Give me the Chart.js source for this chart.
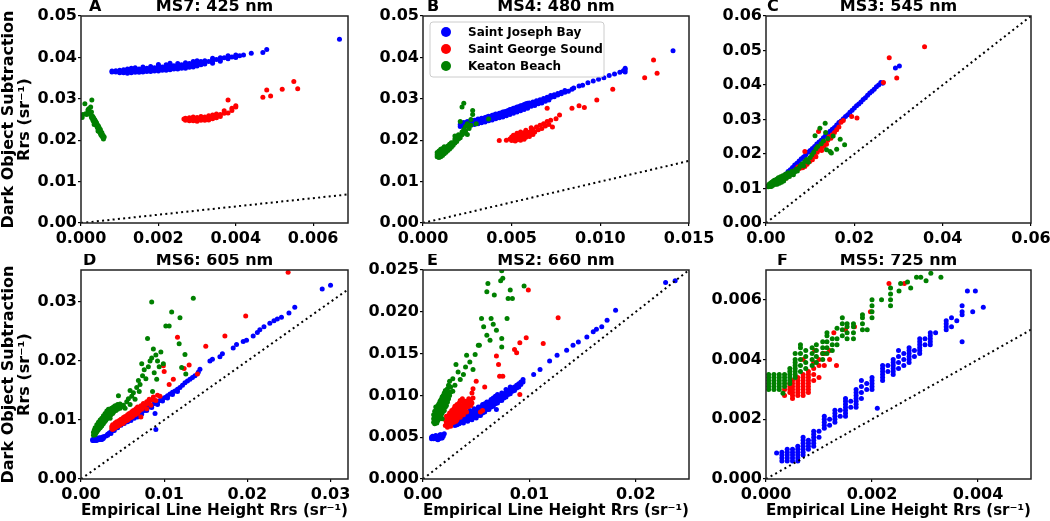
<!DOCTYPE html>
<html>
<head>
<meta charset="utf-8">
<script src="https://cdn.jsdelivr.net/npm/chart.js"></script>
<style>
    html, body { margin: 0; padding: 0; background: #fff; }
    body { width: 1050px; height: 521px; position: relative; overflow: hidden; }
    canvas { position: absolute; }
</style>
</head>
<body>
<script>
const siteNames = ['Saint Joseph Bay', 'Saint George Sound', 'Keaton Beach'];
const siteColors = ['#0000ff', '#ff0000', '#008000'];

const panelLetters = ['A', 'B', 'C', 'D', 'E', 'F'];
const panelTitles = ['MS7: 425 nm', 'MS4: 480 nm', 'MS3: 545 nm', 'MS6: 605 nm', 'MS2: 660 nm', 'MS5: 725 nm'];

const xTickLabels = [
    ['0.000', '0.002', '0.004', '0.006'],
    ['0.000', '0.005', '0.010', '0.015'],
    ['0.00', '0.02', '0.04', '0.06'],
    ['0.00', '0.01', '0.02', '0.03'],
    ['0.00', '0.01', '0.02'],
    ['0.000', '0.002', '0.004']
];
const yTickLabels = [
    ['0.00', '0.01', '0.02', '0.03', '0.04', '0.05'],
    ['0.00', '0.01', '0.02', '0.03', '0.04', '0.05'],
    ['0.00', '0.01', '0.02', '0.03', '0.04', '0.05', '0.06'],
    ['0.00', '0.01', '0.02', '0.03'],
    ['0.000', '0.005', '0.010', '0.015', '0.020', '0.025'],
    ['0.000', '0.002', '0.004', '0.006']
];
const xMax = [0.0069, 0.015, 0.06, 0.0321, 0.025, 0.005];
const yMax = [0.05, 0.05, 0.06, 0.0354, 0.025, 0.007];

const yTitle = ['Dark Object Subtraction', 'Rrs (sr\u207B\u00B9)'];
const xTitle = 'Empirical Line Height Rrs (sr\u207B\u00B9)';

// rows are [x, y1, y2, ...] (points sharing the same x)
// A: MS7 425 nm
const a_sjb = [[0.0008,0.0365,0.0367],[0.0009,0.0365,0.0368],[0.0010,0.0363,0.0366,0.0369],[0.0011,0.0363,0.0367,0.0370],[0.0012,0.0362,0.0366,0.0369,0.0372],[0.0013,0.0363,0.0367,0.0371,0.0374],[0.0014,0.0364,0.0368,0.0372,0.0375],[0.0015,0.0364,0.0368,0.0372],[0.0016,0.0365,0.0369,0.0373,0.0377],[0.0017,0.0366,0.0370,0.0374],[0.0018,0.0366,0.0370,0.0374,0.0378],[0.0019,0.0367,0.0371,0.0375],[0.0020,0.0367,0.0371,0.0375,0.0380,0.0383],[0.0021,0.0369,0.0373,0.0377],[0.0022,0.0369,0.0373,0.0377,0.0382],[0.0023,0.0370,0.0374,0.0378,0.0383,0.0386],[0.0024,0.0372,0.0376,0.0380],[0.0025,0.0372,0.0376,0.0380,0.0385],[0.0026,0.0374,0.0378,0.0382],[0.0027,0.0374,0.0378,0.0382,0.0387],[0.0028,0.0376,0.0380,0.0385],[0.0029,0.0377,0.0381,0.0385,0.0390],[0.0030,0.0379,0.0383,0.0387,0.0392],[0.0031,0.0382,0.0386,0.0390],[0.0032,0.0384,0.0388,0.0392],[0.0033,0.0390],[0.0034,0.0386,0.0390,0.0394,0.0398],[0.0035,0.0395],[0.0036,0.0391,0.0395,0.0399],[0.0037,0.0399],[0.0038,0.0397,0.0401,0.0404],[0.0039,0.0401],[0.0040,0.0400,0.0403,0.0406],[0.0041,0.0404],[0.0042,0.0406],[0.0044,0.0410],[0.0047,0.0412],[0.0048,0.0419],[0.00668,0.0444]];
const a_sgs = [[0.00266,0.0251],[0.0027,0.0248,0.0253],[0.0028,0.0247,0.0250,0.0254],[0.0029,0.0247,0.0252,0.0256],[0.0030,0.0246,0.0250,0.0255],[0.0031,0.0248,0.0253,0.0257],[0.0032,0.0248,0.0251,0.0256],[0.0033,0.0249,0.0253,0.0259],[0.0034,0.0252,0.0255,0.0261],[0.0035,0.0254,0.0258,0.0263],[0.0036,0.0257,0.0262],[0.0037,0.0265,0.0271],[0.0038,0.0266,0.0297],[0.0039,0.0272,0.0277],[0.0040,0.0280,0.0283],[0.0047,0.0304],[0.0048,0.0321],[0.0049,0.0307],[0.0052,0.0323],[0.0055,0.0342],[0.0056,0.0324]];
const a_kb = [[0.00003,0.0255],[0.00005,0.0262],[0.0001,0.0288],[0.00012,0.0264],[0.00015,0.0262],[0.00018,0.0273],[0.0002,0.0266,0.0276],[0.00022,0.0270],[0.00025,0.0262,0.0280],[0.00027,0.0255,0.0268],[0.00028,0.0297],[0.0003,0.0250,0.0258],[0.00032,0.0246,0.0255],[0.00033,0.0252],[0.00034,0.0238],[0.00035,0.0242,0.0250],[0.00036,0.0248],[0.00038,0.0238,0.0245],[0.0004,0.0236,0.0242],[0.00042,0.0231,0.0238],[0.00044,0.0222,0.0228],[0.00045,0.0234],[0.00047,0.0224,0.0230],[0.00048,0.0220],[0.0005,0.0216,0.0226],[0.00052,0.0212,0.0220],[0.00054,0.0218],[0.00055,0.0209],[0.00057,0.0206,0.0212],[0.00058,0.0203],[0.0006,0.0208]];

// B: MS4 480 nm
const b_sjb = [[0.0021,0.0233,0.0238],[0.0022,0.0236,0.0241],[0.0023,0.0233,0.0238,0.0243],[0.0024,0.0236,0.0241],[0.0025,0.0235,0.0240,0.0245],[0.0026,0.0238,0.0243],[0.0027,0.0237,0.0242,0.0247],[0.0028,0.0240,0.0245],[0.0029,0.0238,0.0243,0.0248],[0.0030,0.0242,0.0248],[0.0031,0.0240,0.0245,0.0251],[0.0032,0.0244,0.0250],[0.0033,0.0242,0.0247,0.0253],[0.0034,0.0247,0.0252],[0.0035,0.0244,0.0249,0.0255],[0.0036,0.0250,0.0256],[0.0037,0.0247,0.0252,0.0258],[0.0038,0.0251,0.0257],[0.0039,0.0249,0.0254,0.0260],[0.0040,0.0255,0.0261],[0.0041,0.0252,0.0257,0.0263],[0.0042,0.0256,0.0262],[0.0043,0.0254,0.0259,0.0265],[0.0044,0.0259,0.0266],[0.0045,0.0256,0.0262,0.0268],[0.0046,0.0262,0.0269],[0.0047,0.0259,0.0264,0.0270],[0.0048,0.0265,0.0272],[0.0049,0.0262,0.0267,0.0274],[0.0050,0.0268,0.0275],[0.0051,0.0265,0.0270,0.0277],[0.0052,0.0271,0.0278],[0.0053,0.0268,0.0273,0.0280],[0.0054,0.0274,0.0281],[0.0055,0.0271,0.0276,0.0283],[0.0056,0.0277,0.0284],[0.0057,0.0274,0.0279,0.0286],[0.0058,0.0281,0.0288],[0.0059,0.0277,0.0283,0.0289],[0.0060,0.0284,0.0290],[0.0061,0.0282,0.0288],[0.0062,0.0286,0.0292],[0.0063,0.0284,0.0290],[0.0064,0.0289,0.0295],[0.0065,0.0288,0.0294],[0.0066,0.0292,0.0298],[0.0067,0.0290,0.0296],[0.0068,0.0296,0.0301],[0.0069,0.0294],[0.0070,0.0299,0.0304],[0.0071,0.0297],[0.0072,0.0303,0.0308],[0.0074,0.0305,0.0310],[0.0076,0.0309,0.0313],[0.0078,0.0312,0.0316],[0.0080,0.0316,0.0320],[0.0082,0.0318],[0.0084,0.0323],[0.0085,0.0326],[0.0088,0.0331],[0.0090,0.0333],[0.0093,0.0339],[0.0096,0.0343],[0.0099,0.0347],[0.0102,0.0351],[0.0105,0.0356],[0.0108,0.0360],[0.0111,0.0364],[0.0113,0.0368],[0.0114,0.0365,0.0370,0.0374],[0.0141,0.0416]];
const b_sgs = [[0.0043,0.0199],[0.0047,0.0200],[0.0049,0.0203],[0.0050,0.0199,0.0208],[0.0051,0.0202,0.0212],[0.0052,0.0198,0.0206],[0.0053,0.0201,0.0210,0.0217],[0.0054,0.0204,0.0213],[0.0055,0.0200,0.0208,0.0220],[0.0056,0.0205,0.0214],[0.0057,0.0202,0.0210,0.0218],[0.0058,0.0207,0.0224],[0.0059,0.0212,0.0219],[0.0060,0.0209,0.0216],[0.0061,0.0222,0.0230],[0.0062,0.0214,0.0226],[0.0063,0.0220],[0.0064,0.0232],[0.0065,0.0225],[0.0066,0.0236],[0.0067,0.0228],[0.0068,0.0240],[0.0069,0.0234],[0.0070,0.0245,0.0277],[0.0071,0.0238],[0.0072,0.0248],[0.0073,0.0232],[0.0075,0.0252],[0.0077,0.0261],[0.0084,0.0277],[0.0088,0.0283],[0.0091,0.0279],[0.0098,0.0297],[0.0107,0.0323],[0.0125,0.0351],[0.0130,0.0394],[0.0132,0.0362]];
const b_kb = [[0.0008,0.0160,0.0165,0.0170],[0.0009,0.0158,0.0163,0.0168,0.0174],[0.0010,0.0160,0.0165,0.0171,0.0178],[0.0011,0.0163,0.0168,0.0174,0.0180],[0.0012,0.0167,0.0172,0.0178,0.0184],[0.0013,0.0171,0.0176,0.0182],[0.0014,0.0175,0.0180,0.0186],[0.0015,0.0179,0.0185,0.0190],[0.0016,0.0183,0.0188,0.0194],[0.0017,0.0188,0.0193],[0.0018,0.0193,0.0198,0.0203,0.0210],[0.0019,0.0197,0.0202],[0.0020,0.0203,0.0208,0.0213],[0.0021,0.0206,0.0212,0.0245],[0.0022,0.0213,0.0220,0.0280],[0.0023,0.0217,0.0226,0.0289],[0.0024,0.0222,0.0233],[0.0025,0.0214,0.0240],[0.0026,0.0228],[0.0027,0.0236,0.0250],[0.0028,0.0262,0.0272],[0.0030,0.0240],[0.0037,0.0251]];

// C: MS3 545 nm
const c_sjb = [[0.0030,0.0124],[0.0035,0.0131],[0.0040,0.0136],[0.0045,0.0142],[0.0050,0.0149],[0.0055,0.0154],[0.0060,0.0161],[0.0065,0.0168],[0.0070,0.0173],[0.0075,0.0180],[0.0080,0.0186],[0.0085,0.0191],[0.0090,0.0198],[0.0095,0.0205],[0.0100,0.0210],[0.0105,0.0216],[0.0110,0.0222],[0.0115,0.0229],[0.0120,0.0235],[0.0125,0.0240],[0.0130,0.0247],[0.0135,0.0254],[0.0140,0.0259],[0.0145,0.0266],[0.0150,0.0272],[0.0155,0.0277],[0.0160,0.0284],[0.0165,0.0291],[0.0170,0.0296],[0.0175,0.0302],[0.0180,0.0309],[0.0185,0.0314],[0.0190,0.0321],[0.0195,0.0327],[0.0200,0.0333],[0.0205,0.0340],[0.0210,0.0345],[0.0215,0.0351],[0.0220,0.0358],[0.0225,0.0363],[0.0230,0.0370],[0.0235,0.0377],[0.0240,0.0382],[0.0245,0.0388],[0.0250,0.0395],[0.0255,0.0400],[0.0260,0.0407],[0.0264,0.0405],[0.0293,0.0449],[0.0302,0.0455]];
const c_sgs = [[0.0045,0.0130],[0.0055,0.0142],[0.0062,0.0150],[0.0068,0.0155],[0.0072,0.0162],[0.0076,0.0158],[0.0080,0.0168],[0.0083,0.0160],[0.0088,0.0164,0.0207],[0.0090,0.0175],[0.0093,0.0170],[0.0096,0.0182],[0.0099,0.0178],[0.0102,0.0188],[0.0105,0.0183],[0.0108,0.0195],[0.0110,0.0200],[0.0113,0.0192],[0.0116,0.0205],[0.0119,0.0265],[0.0120,0.0212],[0.0123,0.0218],[0.0126,0.0210],[0.0128,0.0226],[0.0131,0.0222],[0.0134,0.0232],[0.0137,0.0228],[0.0140,0.0240],[0.0143,0.0250],[0.0147,0.0246],[0.0150,0.0256],[0.0155,0.0262],[0.0160,0.0270],[0.0165,0.0278],[0.0170,0.0292],[0.0175,0.0297],[0.0194,0.0309],[0.0206,0.0304],[0.0266,0.0407],[0.0279,0.0479],[0.0296,0.0420],[0.0359,0.0511]];
const c_kb = [[0.0005,0.0105,0.0108],[0.0007,0.0112],[0.0009,0.0106,0.0110],[0.0010,0.0115],[0.0012,0.0106,0.0110],[0.0013,0.0118],[0.0015,0.0109,0.0113],[0.0016,0.0121],[0.0018,0.0112,0.0116],[0.0019,0.0124],[0.0021,0.0112],[0.0022,0.0116,0.0120],[0.0024,0.0127],[0.0025,0.0112,0.0116],[0.0027,0.0120,0.0123],[0.0028,0.0131],[0.0030,0.0115,0.0119],[0.0031,0.0126],[0.0033,0.0130,0.0134],[0.0035,0.0118,0.0122],[0.0036,0.0130],[0.0038,0.0133,0.0137],[0.0040,0.0122,0.0126],[0.0042,0.0133],[0.0044,0.0137,0.0141],[0.0046,0.0130],[0.0048,0.0134,0.0138],[0.0050,0.0146],[0.0053,0.0135],[0.0056,0.0143],[0.0059,0.0150],[0.0062,0.0140],[0.0065,0.0148],[0.0068,0.0156],[0.0071,0.0151],[0.0075,0.0160],[0.0078,0.0166],[0.0082,0.0172],[0.0085,0.0165],[0.0088,0.0178],[0.0092,0.0184],[0.0096,0.0176],[0.0100,0.0190],[0.0104,0.0198],[0.0108,0.0205],[0.0111,0.0253],[0.0113,0.0215],[0.0117,0.0222],[0.0122,0.0275],[0.0125,0.0230],[0.0130,0.0238],[0.0134,0.0289],[0.0135,0.0262],[0.0137,0.0212],[0.0140,0.0245],[0.0145,0.0207],[0.0148,0.0203],[0.0152,0.0252],[0.0160,0.0214],[0.0168,0.0243],[0.0178,0.0227]];

// D: MS6 605 nm
const d_sjb = [[0.0014,0.0065,0.0067],[0.0015,0.0065],[0.0016,0.0066,0.0069],[0.0017,0.0066],[0.0018,0.0065,0.0068],[0.0019,0.0066],[0.0020,0.0066,0.0069],[0.0021,0.0067],[0.0022,0.0067,0.0070],[0.0023,0.0068],[0.0024,0.0067,0.0070],[0.0025,0.0067],[0.0026,0.0068,0.0071],[0.0027,0.0069],[0.0028,0.0072],[0.0030,0.0073],[0.0032,0.0074,0.0076],[0.0034,0.0078],[0.0036,0.0077,0.0080],[0.0038,0.0082],[0.0040,0.0082,0.0085],[0.0042,0.0087],[0.0044,0.0087,0.0090],[0.0046,0.0092],[0.0048,0.0091,0.0094],[0.0050,0.0096],[0.0052,0.0094,0.0098],[0.0054,0.0099],[0.0056,0.0097,0.0101],[0.0058,0.0103],[0.0060,0.0099,0.0102],[0.0062,0.0105],[0.0064,0.0103,0.0107],[0.0066,0.0106],[0.0068,0.0105,0.0109],[0.0070,0.0111],[0.0073,0.0110,0.0114],[0.0076,0.0116],[0.0079,0.0116,0.0120],[0.0082,0.0122],[0.0085,0.0121,0.0125],[0.0088,0.0128],[0.0089,0.0111],[0.0090,0.0084],[0.0092,0.0126,0.0130],[0.0095,0.0133],[0.0098,0.0132,0.0136],[0.0101,0.0138],[0.0104,0.0137,0.0141],[0.0107,0.0144],[0.0110,0.0143,0.0147],[0.0113,0.0149],[0.0116,0.0148,0.0152],[0.0119,0.0155],[0.0122,0.0159],[0.0125,0.0163],[0.0128,0.0166],[0.0131,0.0169],[0.0134,0.0172],[0.0137,0.0175],[0.0141,0.0181],[0.0143,0.0186],[0.0155,0.0200],[0.0158,0.0203],[0.0167,0.0207],[0.0170,0.0212],[0.0183,0.0222],[0.0187,0.0228],[0.0195,0.0233],[0.0199,0.0235],[0.0207,0.0242],[0.0212,0.0248],[0.0215,0.0253],[0.0220,0.0258],[0.0227,0.0264],[0.0232,0.0268],[0.0236,0.0271],[0.0241,0.0274],[0.0250,0.0281],[0.0257,0.0291],[0.0290,0.0322],[0.0300,0.0328]];
const d_sgs = [[0.0037,0.0085,0.0089],[0.0038,0.0084,0.0088,0.0092],[0.0040,0.0086,0.0091],[0.0041,0.0087,0.0090,0.0095],[0.0042,0.0088,0.0093],[0.0043,0.0089,0.0092,0.0097],[0.0045,0.0090,0.0095],[0.0046,0.0091,0.0094,0.0099],[0.0047,0.0092,0.0097],[0.0048,0.0093,0.0096,0.0101],[0.0050,0.0094,0.0099],[0.0051,0.0095,0.0099,0.0104],[0.0052,0.0097,0.0102],[0.0053,0.0098,0.0101,0.0106],[0.0055,0.0099,0.0104],[0.0056,0.0100,0.0103,0.0109],[0.0057,0.0101,0.0106],[0.0058,0.0103,0.0106,0.0111],[0.0060,0.0104,0.0109],[0.0061,0.0105,0.0108,0.0114],[0.0062,0.0106,0.0111],[0.0063,0.0108,0.0111,0.0116],[0.0065,0.0109,0.0114],[0.0066,0.0110,0.0113,0.0119],[0.0067,0.0117],[0.0068,0.0111,0.0122],[0.0070,0.0115,0.0119],[0.0071,0.0120],[0.0072,0.0105,0.0124],[0.0073,0.0118],[0.0075,0.0122,0.0128],[0.0077,0.0126],[0.0079,0.0119,0.0131],[0.0080,0.0128],[0.0082,0.0131,0.0135],[0.0084,0.0125],[0.0086,0.0134],[0.0087,0.0139],[0.0090,0.0133],[0.0092,0.0142],[0.0095,0.0140],[0.0099,0.0192],[0.0100,0.0182],[0.0106,0.0160],[0.0111,0.0169],[0.0116,0.0240],[0.0124,0.0187],[0.0130,0.0193],[0.0140,0.0178],[0.0150,0.0225],[0.0173,0.0242],[0.0198,0.0276],[0.0249,0.0350]];
const d_kb = [[0.0015,0.0074,0.0079],[0.0016,0.0077,0.0083],[0.0017,0.0075,0.0081,0.0087],[0.0018,0.0078,0.0085],[0.0019,0.0080,0.0087,0.0092],[0.0020,0.0082,0.0089],[0.0021,0.0084,0.0090,0.0096],[0.0022,0.0086,0.0093],[0.0023,0.0087,0.0094,0.0100],[0.0024,0.0089,0.0096],[0.0025,0.0090,0.0098,0.0103],[0.0026,0.0093,0.0100],[0.0027,0.0094,0.0101,0.0107],[0.0028,0.0097,0.0104],[0.0029,0.0098,0.0106,0.0111],[0.0030,0.0100,0.0108],[0.0031,0.0102,0.0110,0.0115],[0.0032,0.0104,0.0112],[0.0033,0.0105,0.0113,0.0118],[0.0034,0.0107,0.0115],[0.0035,0.0103,0.0110,0.0117],[0.0036,0.0109,0.0119],[0.0037,0.0112,0.0120],[0.0038,0.0111,0.0118],[0.0039,0.0113,0.0122],[0.0040,0.0115,0.0121],[0.0041,0.0117,0.0124],[0.0042,0.0116,0.0123],[0.0043,0.0119],[0.0044,0.0118,0.0126],[0.0045,0.0141],[0.0046,0.0121],[0.0047,0.0120,0.0127],[0.0049,0.0123],[0.0051,0.0125],[0.0053,0.0120],[0.0055,0.0131],[0.0057,0.0136],[0.0059,0.0126,0.0150],[0.0061,0.0140],[0.0063,0.0146],[0.0065,0.0135],[0.0067,0.0155],[0.0069,0.0167],[0.0070,0.0148],[0.0071,0.0160],[0.0073,0.0195],[0.0074,0.0175],[0.0076,0.0185],[0.0078,0.0170],[0.0080,0.0238],[0.0081,0.0190],[0.0083,0.0200],[0.0085,0.0205,0.0300],[0.0086,0.0148],[0.0087,0.0220],[0.0088,0.0180],[0.0090,0.0210],[0.0091,0.0169],[0.0092,0.0200],[0.0094,0.0190],[0.0096,0.0215],[0.0099,0.0195],[0.0102,0.0259],[0.0106,0.0259],[0.0109,0.0283],[0.0118,0.0229],[0.0119,0.0273],[0.0121,0.0189],[0.0125,0.0211],[0.0126,0.0178],[0.0135,0.0306]];

// E: MS2 660 nm
const e_sjb = [[0.0008,0.0048,0.0050],[0.0009,0.0051],[0.0010,0.0048,0.0050],[0.0011,0.0050],[0.0012,0.0048,0.0052],[0.0013,0.0049],[0.0014,0.0047,0.0051],[0.0015,0.0048],[0.0016,0.0050,0.0053],[0.0017,0.0049,0.0053],[0.0018,0.0049],[0.0019,0.0051],[0.0020,0.0054],[0.0030,0.0064,0.0068],[0.0032,0.0065,0.0070],[0.0033,0.0068,0.0072],[0.0034,0.0066,0.0070,0.0074],[0.0036,0.0068,0.0072,0.0076],[0.0038,0.0067,0.0071,0.0075],[0.0040,0.0070,0.0075,0.0079],[0.0042,0.0069,0.0073,0.0078],[0.0044,0.0072,0.0077,0.0082],[0.0046,0.0071,0.0075,0.0080],[0.0048,0.0074,0.0079,0.0084],[0.0050,0.0073,0.0078,0.0083],[0.0052,0.0076,0.0081,0.0086],[0.0054,0.0076,0.0081,0.0086],[0.0056,0.0079,0.0084,0.0089],[0.0058,0.0080,0.0085,0.0090],[0.0060,0.0083,0.0088,0.0092],[0.0062,0.0083,0.0087,0.0092],[0.0064,0.0086,0.0090,0.0095],[0.0066,0.0087,0.0092,0.0097],[0.0068,0.0090,0.0095,0.0099],[0.0069,0.0083],[0.0070,0.0091,0.0096,0.0101],[0.0072,0.0094,0.0099],[0.0074,0.0094,0.0098,0.0103],[0.0076,0.0097,0.0102],[0.0078,0.0098,0.0103,0.0107],[0.0080,0.0101,0.0106],[0.0082,0.0102,0.0107,0.0110],[0.0084,0.0105,0.0109],[0.0086,0.0106,0.0110],[0.0088,0.0109,0.0112],[0.0090,0.0110,0.0114],[0.0092,0.0113,0.0116],[0.0094,0.0116,0.0119],[0.0104,0.0125],[0.0110,0.0131],[0.0119,0.0141],[0.0126,0.0148],[0.0135,0.0154],[0.0141,0.0160],[0.0146,0.0164],[0.0154,0.0170],[0.0160,0.0176],[0.0163,0.0179],[0.0168,0.0182],[0.0173,0.0190],[0.0181,0.0202],[0.0228,0.0235],[0.0237,0.0237]];
const e_sgs = [[0.0021,0.0064,0.0071],[0.0022,0.0068,0.0075],[0.0023,0.0062,0.0066,0.0072],[0.0024,0.0070,0.0076],[0.0025,0.0065,0.0069,0.0079],[0.0026,0.0063,0.0073,0.0077],[0.0027,0.0067,0.0072,0.0082],[0.0028,0.0070,0.0076,0.0080],[0.0029,0.0068,0.0074,0.0084],[0.0030,0.0071,0.0075,0.0087],[0.0031,0.0069,0.0079,0.0083],[0.0032,0.0071,0.0077,0.0089],[0.0033,0.0074,0.0078,0.0085],[0.0034,0.0076,0.0082,0.0091],[0.0035,0.0074,0.0080,0.0094],[0.0036,0.0078,0.0083,0.0088],[0.0037,0.0081,0.0086,0.0096],[0.0038,0.0077,0.0084,0.0092],[0.0039,0.0082,0.0089],[0.0040,0.0085,0.0093],[0.0041,0.0080,0.0088],[0.0042,0.0086,0.0091],[0.0043,0.0090,0.0096],[0.0045,0.0088,0.0093],[0.0046,0.0091,0.0103],[0.0047,0.0097,0.0108],[0.0050,0.0117],[0.0054,0.0080],[0.0056,0.0082],[0.0058,0.0110],[0.0069,0.0147],[0.0071,0.0137],[0.0072,0.0123],[0.0075,0.0123],[0.0086,0.0155],[0.0088,0.0151],[0.0091,0.0101,0.0163],[0.0097,0.0169],[0.0099,0.0226],[0.0113,0.0162],[0.0127,0.0193]];
const e_kb = [[0.0010,0.0068,0.0072,0.0077],[0.0011,0.0066,0.0071,0.0075,0.0081],[0.0012,0.0068,0.0073,0.0080,0.0086],[0.0013,0.0067,0.0073,0.0079,0.0085],[0.0014,0.0070,0.0076,0.0082,0.0088],[0.0015,0.0072,0.0078,0.0084,0.0090],[0.0016,0.0074,0.0080,0.0087,0.0093],[0.0017,0.0076,0.0082,0.0089,0.0095],[0.0018,0.0072,0.0079,0.0085,0.0092,0.0098],[0.0019,0.0081,0.0088,0.0094,0.0100],[0.0020,0.0082,0.0090,0.0096,0.0103],[0.0021,0.0086,0.0093,0.0099,0.0106],[0.0022,0.0088,0.0094,0.0102],[0.0023,0.0092,0.0099,0.0108],[0.0024,0.0096,0.0103,0.0112],[0.0025,0.0100,0.0117],[0.0026,0.0104,0.0110],[0.0028,0.0105,0.0120],[0.0030,0.0112],[0.0031,0.0137],[0.0033,0.0128],[0.0035,0.0119],[0.0038,0.0125],[0.0040,0.0134],[0.0041,0.0148],[0.0044,0.0140],[0.0047,0.0131],[0.0049,0.0149],[0.0052,0.0160],[0.0053,0.0160],[0.0055,0.0192],[0.0057,0.0182],[0.0060,0.0172,0.0224],[0.0061,0.0234],[0.0063,0.0166],[0.0064,0.0192],[0.0066,0.0185],[0.0067,0.0220],[0.0069,0.0178],[0.0073,0.0237],[0.0074,0.0158,0.0168,0.0249],[0.0075,0.0240],[0.0079,0.0192],[0.0080,0.0216],[0.0082,0.0226],[0.0084,0.0216],[0.0095,0.0231]];

// F: MS5 725 nm
const f_sjb = [[0.0002,0.00087],[0.0003,0.0006,0.0007,0.0008,0.0009],[0.0004,0.0006,0.0007,0.0008,0.0009,0.0010],[0.0005,0.0006,0.0007,0.0008,0.0009,0.0010],[0.0006,0.0006,0.0007,0.0008,0.0009,0.0010,0.0011],[0.0007,0.0008,0.0009,0.0010,0.0011,0.0012,0.0013,0.0014],[0.0008,0.0010,0.0011,0.0012,0.0013],[0.0009,0.0011,0.0012,0.0013,0.0014,0.0015,0.0016],[0.0010,0.0014,0.0016],[0.0011,0.0017,0.0018,0.0019,0.0020,0.0021],[0.0012,0.0018,0.0020],[0.0013,0.0019,0.0020,0.0021,0.0022,0.0023],[0.0014,0.0021,0.0023],[0.0015,0.0021,0.0022,0.0023,0.0024,0.0025,0.0026,0.0027],[0.0016,0.0024,0.0026],[0.0017,0.0024,0.0025,0.0026,0.0027,0.0028,0.0029,0.0030],[0.0018,0.0027,0.0029,0.0031,0.0033],[0.0019,0.0030,0.0032],[0.0020,0.0030,0.0031,0.0032,0.0033,0.0034],[0.0021,0.00237],[0.0022,0.0033,0.0034,0.0035,0.0036,0.0037,0.0038],[0.0023,0.0036,0.0038],[0.0024,0.0035,0.0036,0.0037,0.0038,0.0039,0.0040],[0.0025,0.0037,0.0039,0.0041,0.0043],[0.0026,0.0038,0.0040,0.0042],[0.0027,0.0039,0.0040,0.0041,0.0042,0.0043,0.0044],[0.0028,0.0041,0.0043],[0.0029,0.0042,0.0043,0.0044,0.0045,0.0046,0.0047],[0.0030,0.0045,0.0047],[0.0031,0.0045,0.0046,0.0047,0.0048,0.0049],[0.0032,0.0049],[0.0034,0.0050,0.0051,0.0052,0.0053],[0.0035,0.0051,0.0054],[0.0036,0.0053],[0.0037,0.0046,0.0055,0.0056,0.0058],[0.0038,0.0063],[0.0039,0.0056],[0.00395,0.0063],[0.0041,0.00575]];
const f_sgs = [[0.00035,0.0028,0.0030],[0.00045,0.0029,0.0030,0.0031,0.0032],[0.0005,0.0027,0.0028,0.0029,0.0030,0.0031,0.0032,0.0033],[0.0006,0.0028,0.0029,0.0030,0.0031,0.0032,0.0033,0.0034],[0.0007,0.0028,0.0029,0.0030,0.0031,0.0032,0.0033,0.0034,0.0035,0.0040],[0.0008,0.0029,0.0030,0.0031,0.0032,0.0033,0.0034,0.0035,0.0036],[0.0009,0.0033,0.0035,0.0037,0.0039],[0.00092,0.0043],[0.0010,0.0034,0.0038,0.0040],[0.00107,0.0042],[0.0011,0.0038,0.0042],[0.0012,0.0040,0.0043],[0.00128,0.0049],[0.00133,0.0038],[0.0015,0.0050],[0.00167,0.0051],[0.00197,0.0056],[0.00232,0.00655],[0.00261,0.00655]];
const f_kb = [[0.00005,0.0030,0.0031,0.0032,0.0033,0.0034,0.0035],[0.00015,0.0030,0.0031,0.0032,0.0033,0.0034,0.0035],[0.00025,0.0030,0.0031,0.0032,0.0033,0.0034,0.0035],[0.00032,0.00287],[0.00035,0.0031,0.0032,0.0033,0.0034,0.0035],[0.00045,0.0032,0.0033,0.0034,0.0035,0.0036,0.0037],[0.00055,0.0034,0.0035,0.0036,0.0037,0.0038,0.0039,0.0040,0.0042],[0.00065,0.0036,0.0038,0.0040,0.0042,0.0044,0.0045],[0.00075,0.0037,0.0039,0.0041,0.0043],[0.00087,0.0038,0.0040,0.0042,0.0044],[0.00095,0.0039,0.0041,0.0043,0.0045],[0.00107,0.0040,0.0042,0.0044,0.0046],[0.00115,0.0042,0.0044,0.0046,0.0048,0.0049],[0.00125,0.0043,0.0045,0.0047],[0.00134,0.0045,0.0047,0.00505],[0.00144,0.0048,0.0050,0.0052,0.0054],[0.00153,0.0047,0.0049,0.0051,0.0052],[0.00165,0.0047,0.0049,0.0051,0.0052],[0.00182,0.0050,0.0052,0.0054,0.0055],[0.00191,0.0050],[0.0020,0.0054,0.0056,0.0058,0.0060],[0.00218,0.0060],[0.00235,0.0058,0.0060,0.0062,0.0064],[0.00251,0.0063],[0.00254,0.00655],[0.00267,0.0066],[0.00273,0.0064],[0.00284,0.00676],[0.00292,0.00676],[0.00302,0.00664],[0.00311,0.00689],[0.0033,0.00676]];

const panelData = [
    [a_sjb, a_sgs, a_kb],
    [b_sjb, b_sgs, b_kb],
    [c_sjb, c_sgs, c_kb],
    [d_sjb, d_sgs, d_kb],
    [e_sjb, e_sgs, e_kb],
    [f_sjb, f_sgs, f_kb]
];

// plot areas in page pixels
const plotBoxes = [
    {left: 81, top: 16, right: 348, bottom: 223},
    {left: 423, top: 16, right: 689, bottom: 223},
    {left: 766, top: 16, right: 1031, bottom: 223},
    {left: 81, top: 270, right: 348, bottom: 479},
    {left: 423, top: 270, right: 689, bottom: 479},
    {left: 766, top: 270, right: 1031, bottom: 479}
];
const letterOffsets = [8, 4, 1, 2, 4, 11];

const fontFamily = '"DejaVu Sans", sans-serif';
const AXIS_W = 81, AXIS_H = 40, PAD_TOP = 16, PAD_RIGHT = 30;

function toPoints(rows) {
    return rows.flatMap(r => r.slice(1).map(y => ({x: r[0], y: y})));
}

const panelDecor = {
    id: 'panelDecor',
    afterDraw(chart, args, opts) {
        const ctx = chart.ctx;
        const a = chart.chartArea;
        ctx.save();
        ctx.strokeStyle = '#222';
        ctx.lineWidth = 1.5;
        ctx.strokeRect(a.left, a.top, a.right - a.left, a.bottom - a.top);

        ctx.fillStyle = '#000';
        ctx.font = 'bold 16px ' + fontFamily;
        ctx.textBaseline = 'middle';
        ctx.textAlign = 'center';
        ctx.fillText(opts.title, (a.left + a.right) / 2, a.top - 9);
        ctx.textAlign = 'left';
        ctx.fillText(opts.letter, a.left + opts.letterDx, a.top - 9);

        if (opts.legend) {
            const bx = a.left + 7, by = a.top + 6, bw = 174, bh = 55;
            ctx.beginPath();
            ctx.roundRect(bx, by, bw, bh, 3);
            ctx.fillStyle = 'rgba(255,255,255,0.8)';
            ctx.fill();
            ctx.strokeStyle = '#cccccc';
            ctx.lineWidth = 1;
            ctx.stroke();
            ctx.font = 'bold 12px ' + fontFamily;
            siteNames.forEach((name, i) => {
                const cy = a.top + 16 + i * 17;
                ctx.beginPath();
                ctx.arc(a.left + 23, cy, 5, 0, Math.PI * 2);
                ctx.fillStyle = siteColors[i];
                ctx.fill();
                ctx.fillStyle = '#000';
                ctx.fillText(name, a.left + 45, cy + 1);
            });
        }
        ctx.restore();
    }
};

function tickAxis(labels, max, fitFn, title, pad) {
    const values = labels.map(parseFloat);
    return {
        type: 'linear',
        min: 0,
        max: max,
        afterBuildTicks: s => { s.ticks = values.map(v => ({value: v})); },
        afterFit: fitFn,
        ticks: {
            autoSkip: false,
            maxRotation: 0,
            padding: pad,
            color: '#000',
            font: {size: 16, weight: 'bold', family: fontFamily},
            callback: v => labels[values.indexOf(v)]
        },
        grid: {drawOnChartArea: false, drawTicks: true, tickLength: 3, color: '#000', lineWidth: 1.2},
        border: {display: false},
        title: title
    };
}

function drawPanel(i) {
    const box = plotBoxes[i];
    const canvas = document.createElement('canvas');
    const w = AXIS_W + (box.right - box.left) + PAD_RIGHT;
    const h = PAD_TOP + (box.bottom - box.top) + AXIS_H;
    canvas.width = w;
    canvas.height = h;
    canvas.style.left = (box.left - AXIS_W) + 'px';
    canvas.style.top = (box.top - PAD_TOP) + 'px';
    canvas.style.width = w + 'px';
    canvas.style.height = h + 'px';
    document.body.appendChild(canvas);

    const lim = xMax[i];
    const datasets = panelData[i].map((rows, k) => ({
        label: siteNames[k],
        data: toPoints(rows),
        backgroundColor: siteColors[k],
        borderColor: siteColors[k],
        pointRadius: 2.5,
        pointBorderWidth: 0,
        order: 4 - k
    }));
    datasets.push({
        label: '1:1',
        data: [{x: 0, y: 0}, {x: lim, y: lim}],
        showLine: true,
        borderColor: '#000',
        borderWidth: 2,
        borderDash: [2, 3.3],
        pointRadius: 0,
        order: 0
    });

    const leftCol = (i % 3 === 0);
    const bottomRow = (i >= 3);

    new Chart(canvas, {
        type: 'scatter',
        data: {datasets: datasets},
        options: {
            responsive: false,
            animation: false,
            devicePixelRatio: 1,
            layout: {padding: {top: PAD_TOP, right: PAD_RIGHT, bottom: 0, left: 0}},
            plugins: {
                legend: {display: false},
                tooltip: {enabled: false},
                panelDecor: {
                    title: panelTitles[i],
                    letter: panelLetters[i],
                    letterDx: letterOffsets[i],
                    legend: i === 1
                }
            },
            scales: {
                x: tickAxis(xTickLabels[i], xMax[i], s => { s.height = AXIS_H; }, {
                    display: bottomRow,
                    text: xTitle,
                    color: '#000',
                    font: {size: 16, weight: 'bold', family: fontFamily, lineHeight: 1.0},
                    padding: {top: 0, bottom: 0}
                }, 3),
                y: tickAxis(yTickLabels[i], yMax[i], s => { s.width = AXIS_W; }, {
                    display: leftCol,
                    text: yTitle,
                    color: '#000',
                    font: {size: 16, weight: 'bold', family: fontFamily, lineHeight: 1.05},
                    padding: {top: 0, bottom: 0}
                }, 1)
            }
        },
        plugins: [panelDecor]
    });
}

for (let i = 0; i < 6; i++) {
    drawPanel(i);
}
</script>
</body>
</html>
